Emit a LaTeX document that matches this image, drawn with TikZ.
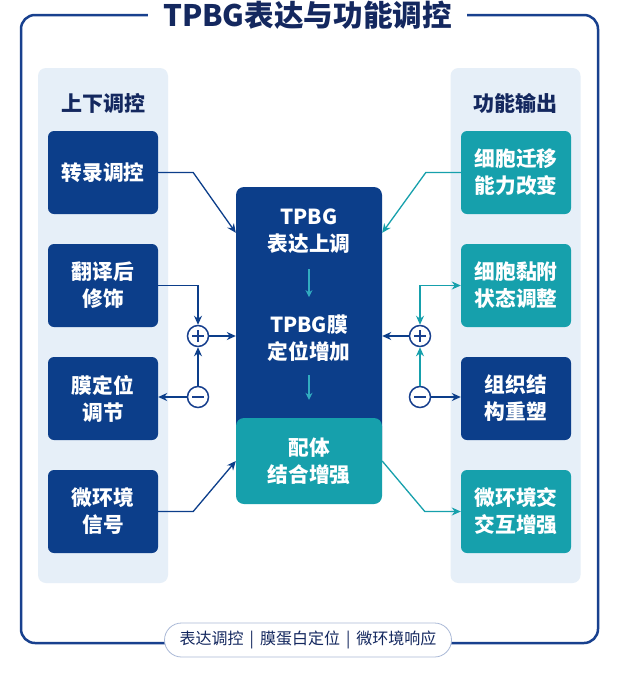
\documentclass[tikz,border=0pt]{standalone}
\usepackage{fontspec}
\setmainfont{Noto Sans CJK SC}
\usetikzlibrary{arrows.meta}
\definecolor{tpnavy}{RGB}{12,62,138}
\definecolor{tpteal}{RGB}{22,160,172}
\definecolor{tpframe}{RGB}{24,64,142}
\definecolor{tptitle}{RGB}{20,40,95}
\definecolor{tppanel}{RGB}{230,239,248}
\definecolor{tplight}{RGB}{50,172,192}
\definecolor{tpborder}{RGB}{170,185,215}
\newcommand{\tpbar}{\hspace{6pt}|\hspace{6pt}}

\begin{document}
\begin{tikzpicture}[x=1pt, y=-1pt,
    box/.style={rounded corners=6pt, minimum width=110pt, minimum height=83pt, inner sep=0pt,
      text=white, align=center, font=\bfseries\fontsize{20.7}{27}\selectfont},
    navybox/.style={box, fill=tpnavy},
    tealbox/.style={box, fill=tpteal},
    panel/.style={fill=tppanel, rounded corners=8pt, minimum width=130pt, minimum height=515pt},
    head/.style={font=\bfseries\fontsize{21}{24}\selectfont, text=tptitle},
    core/.style={text=white, align=center, font=\bfseries\fontsize{20.7}{27}\selectfont},
    sign/.style={circle, draw=tpframe, line width=1.5pt, fill=white, minimum size=21pt, inner sep=0pt},
    plus/.style={sign, path picture={
      \draw[tpframe, line width=1.5pt] ([xshift=-6pt]path picture bounding box.center) -- ([xshift=6pt]path picture bounding box.center);
      \draw[tpframe, line width=1.5pt] ([yshift=-6pt]path picture bounding box.center) -- ([yshift=6pt]path picture bounding box.center);}},
    minus/.style={sign, path picture={
      \draw[tpframe, line width=1.5pt] ([xshift=-6pt]path picture bounding box.center) -- ([xshift=6pt]path picture bounding box.center);}},
    nvarrow/.style={draw=tpnavy, line width=1.3pt, -{Stealth[length=9pt, width=8pt]}},
    tlarrow/.style={draw=tpteal, line width=1.3pt, -{Stealth[length=9pt, width=8pt]}},
    inarrow/.style={draw=tplight, line width=1.3pt, -{Stealth[length=7pt, width=7pt]}}
  ]
  \useasboundingbox (0,0) rectangle (624,675);
  \fill[white] (0,0) rectangle (624,675);

  % Rahmen
  \draw[tpframe, line width=2.5pt, rounded corners=14pt] (21,15) rectangle (598,643);
  \node[fill=white, inner xsep=15pt, text=tptitle, font=\bfseries\fontsize{29.6}{32}\selectfont] (title) at (307.5,15) {TPBG表达与功能调控};
  \node[draw=tpborder, line width=0.8pt, fill=white, rounded corners=17pt, minimum width=287pt, minimum height=34pt,
    text=tptitle, font=\fontsize{16}{18}\selectfont] (tags) at (308,640) {表达调控\tpbar 膜蛋白定位\tpbar 微环境响应};

  % Spalten
  \node[panel] (lpanel) at (103,325.5) {};
  \node[panel] (rpanel) at (515.5,325.5) {};
  \node[head] (lhead) at (103,103) {上下调控};
  \node[head] (rhead) at (515.5,103) {功能输出};

  % linke Knoten
  \node[navybox] (l1) at (103,172.5) {转录调控};
  \node[navybox] (l2) at (103,285.5) {翻译后\\修饰};
  \node[navybox] (l3) at (103,398.5) {膜定位\\调节};
  \node[navybox] (l4) at (103,511.5) {微环境\\信号};

  % rechte Knoten
  \node[tealbox] (r1) at (516,172.5) {细胞迁移\\能力改变};
  \node[tealbox] (r2) at (516,285.5) {细胞黏附\\状态调整};
  \node[navybox] (r3) at (516,398.5) {组织结\\构重塑};
  \node[tealbox] (r4) at (516,511.5) {微环境交\\交互增强};

  % Mitte
  \node[fill=tpnavy, rounded corners=8pt, minimum width=146pt, minimum height=283pt] (core) at (309,328.5) {};
  \node[fill=tpteal, rounded corners=8pt, minimum width=146pt, minimum height=86pt, core] (lig) at (309,461) {配体\\结合增强};
  \node[core] (upreg) at (309,231) {TPBG\\表达上调};
  \node[core] (memloc) at (309,338) {TPBG膜\\定位增加};
  \draw[inarrow, shorten <=12pt, shorten >=14pt] (upreg) -- (memloc);
  \draw[inarrow, shorten <=10pt, shorten >=18pt] (memloc) -- (lig);

  % Vorzeichen
  \node[plus] (plusL) at (198,336) {};
  \node[minus] (minusL) at (198,397) {};
  \node[plus] (plusR) at (420,336) {};
  \node[minus] (minusR) at (420,397) {};

  % Pfeile links
  \draw[nvarrow] (l1.east) -- ++(35,0) -- ([yshift=-46pt]core.north west);
  \draw[nvarrow] (l2.east) -| (plusL.north);
  \draw[nvarrow] (plusL) -- (plusL -| core.west);
  \draw[nvarrow] (minusL) -- (plusL);
  \draw[nvarrow] (minusL) -- (minusL -| l3.east);
  \draw[nvarrow] (l4.east) -- ++(35,0) -- (lig.west);

  % Pfeile rechts
  \draw[tlarrow] (r1.west) -- ++(-35,0) -- ([yshift=-46pt]core.north east);
  \draw[tlarrow, {Stealth[length=9pt, width=8pt]}-{Stealth[length=9pt, width=8pt]}] (plusR.north) |- (r2.west);
  \draw[nvarrow] (plusR) -- (plusR -| core.east);
  \draw[tlarrow] (minusR) -- (plusR);
  \draw[nvarrow] (minusR) -- (minusR -| r3.west);
  \draw[tlarrow] (lig.east) -- ([xshift=-36pt]r4.west) -- (r4.west);
\end{tikzpicture}
\end{document}
